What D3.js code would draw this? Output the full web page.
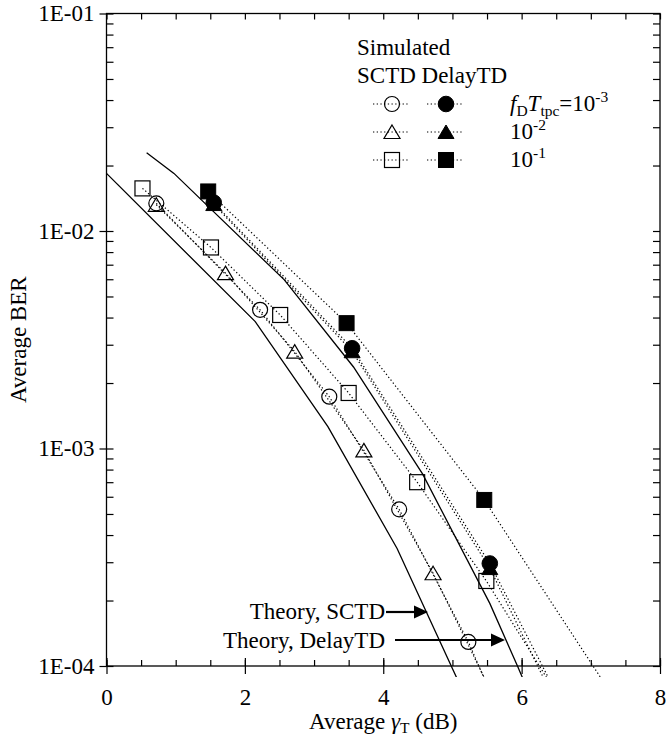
<!DOCTYPE html>
<html>
<head>
<meta charset="utf-8">
<script src="https://cdn.jsdelivr.net/npm/d3@7"></script>
<style>
  body { margin: 0; background: #fff; }
  svg { display: block; }
  text { font-family: "Liberation Serif", "Times New Roman", serif; fill: #000; }
</style>
</head>
<body>
<script>
// axis ticks
const xTicks = [0, 2, 4, 6, 8];
const yTicks = [1e-4, 1e-3, 1e-2, 1e-1];
const yTickLabels = ['1E-04', '1E-03', '1E-02', '1E-01'];

// theory curves [dB, BER]
const theorySCTD = [[0, 1.84e-2], [2.15, 3.83e-3], [3.2, 1.26e-3], [4.2, 3.47e-4], [5.1, 8.3e-5]];
const theoryDelayTD = [[0.58, 2.29e-2], [0.975, 1.84e-2], [2.57, 5.96e-3], [3.57, 2.37e-3], [4.57, 7.62e-4], [5.54, 1.94e-4], [5.94, 1.0e-4], [6.1, 7.6e-5]];

// simulated, SCTD
const sctdX3 = [0.72, 2.22, 3.22, 4.23, 5.23, 6.23];
const sctdBer3 = [1.34e-2, 4.34e-3, 1.73e-3, 5.25e-4, 1.29e-4, 2.4e-5];
const sctdX2 = [0.72, 1.72, 2.72, 3.72, 4.72, 5.72];
const sctdBer2 = [1.32e-2, 6.4e-3, 2.79e-3, 9.8e-4, 2.67e-4, 6.0e-5];
const sctdX1 = [0.52, 1.51, 2.51, 3.50, 4.49, 5.49, 6.49];
const sctdBer1 = [1.57e-2, 8.4e-3, 4.11e-3, 1.80e-3, 7.0e-4, 2.46e-4, 7.6e-5];

// simulated, DelayTD
const delayX3 = [1.55, 3.55, 5.54, 6.54];
const delayBer3 = [1.35e-2, 2.89e-3, 2.96e-4, 7.1e-5];
const delayX2 = [1.55, 3.55, 5.54, 6.54];
const delayBer2 = [1.33e-2, 2.80e-3, 2.82e-4, 6.3e-5];
const delayX1 = [1.47, 3.47, 5.46, 7.46];
const delayBer1 = [1.52e-2, 3.77e-3, 5.8e-4, 6.2e-5];

const series = [
  { shape: 'square', filled: false, x: sctdX1, ber: sctdBer1 },
  { shape: 'triangle', filled: false, x: sctdX2, ber: sctdBer2 },
  { shape: 'circle', filled: false, x: sctdX3, ber: sctdBer3 },
  { shape: 'square', filled: true, x: delayX1, ber: delayBer1 },
  { shape: 'triangle', filled: true, x: delayX2, ber: delayBer2 },
  { shape: 'circle', filled: true, x: delayX3, ber: delayBer3 },
].map(s => ({ ...s, points: s.x.map((x, i) => [x, s.ber[i]]) }));

const legendRows = [
  { shape: 'circle', exp: '-3', first: true },
  { shape: 'triangle', exp: '-2' },
  { shape: 'square', exp: '-1' },
];

const width = 666;
const height = 740;
const plotLeft = 106.5, plotRight = 660, plotTop = 13.5, plotBottom = 666;
const fontSize = 23;
const subSize = 15.5;

const x = d3.scaleLinear().domain([0, 8]).range([plotLeft, plotRight]);
const y = d3.scaleLog().domain([1e-4, 1e-1]).range([plotBottom, plotTop]);

const svg = d3.select('body')
  .append('svg')
  .attr('width', width)
  .attr('height', height)
  .style('font-size', fontSize + 'px');

svg.append('defs').append('clipPath')
  .attr('id', 'plot-clip')
  .append('rect')
    .attr('x', plotLeft)
    .attr('y', 0)
    .attr('width', plotRight - plotLeft)
    .attr('height', 677);

function marker(g, shape, filled) {
  const fill = filled ? '#000' : 'none';
  if (shape === 'circle') {
    g.append('circle').attr('r', filled ? 7.8 : 7.5);
  } else if (shape === 'square') {
    g.append('rect').attr('x', -7.5).attr('y', -7.5).attr('width', 15).attr('height', 15);
  } else {
    g.append('path').attr('d', 'M0,-7L8,6.5L-8,6.5Z');
  }
  g.selectAll('*')
    .attr('fill', fill)
    .attr('stroke', '#000')
    .attr('stroke-width', filled ? 1 : 1.2);
}

// frame and ticks
const halfSteps = d3.range(0, 8.01, 0.5);
const minorY = [];
[1e-4, 1e-3, 1e-2].forEach(d => d3.range(2, 10).forEach(k => minorY.push(d * k)));

svg.append('g')
  .attr('transform', `translate(0,${plotBottom})`)
  .call(d3.axisBottom(x).tickValues(xTicks).tickSize(8).tickPadding(15).tickFormat(d3.format('d')))
  .call(g => g.select('.domain').remove())
  .call(g => g.selectAll('text').attr('font-size', fontSize).attr('font-family', null));

svg.append('g')
  .attr('transform', `translate(0,${plotBottom})`)
  .call(d3.axisTop(x).tickValues(halfSteps).tickSize(6).tickFormat(''))
  .call(g => g.select('.domain').remove());

svg.append('g')
  .attr('transform', `translate(0,${plotBottom})`)
  .call(d3.axisTop(x).tickValues(xTicks).tickSize(8).tickFormat(''))
  .call(g => g.select('.domain').remove());

svg.append('g')
  .attr('transform', `translate(0,${plotTop})`)
  .call(d3.axisBottom(x).tickValues(halfSteps).tickSize(6).tickFormat(''))
  .call(g => g.select('.domain').remove());

svg.append('g')
  .attr('transform', `translate(${plotLeft},0)`)
  .call(d3.axisLeft(y).tickValues(yTicks).tickSize(7).tickPadding(5)
    .tickFormat((d, i) => yTickLabels[i]))
  .call(g => g.select('.domain').remove())
  .call(g => g.selectAll('text').attr('font-size', fontSize).attr('font-family', null));

svg.append('g')
  .attr('transform', `translate(${plotLeft},0)`)
  .call(d3.axisRight(y).tickValues(minorY.concat(yTicks)).tickSize(7).tickFormat(''))
  .call(g => g.select('.domain').remove());

svg.append('g')
  .attr('transform', `translate(${plotRight},0)`)
  .call(d3.axisLeft(y).tickValues(minorY.concat(yTicks)).tickSize(7).tickFormat(''))
  .call(g => g.select('.domain').remove());

svg.selectAll('.tick line').attr('stroke', '#000').attr('stroke-width', 1.2);

svg.append('rect')
  .attr('x', plotLeft)
  .attr('y', plotTop)
  .attr('width', plotRight - plotLeft)
  .attr('height', plotBottom - plotTop)
  .attr('fill', 'none')
  .attr('stroke', '#000')
  .attr('stroke-width', 1.3);

// curves
const line = d3.line().x(d => x(d[0])).y(d => y(d[1]));
const plot = svg.append('g').attr('clip-path', 'url(#plot-clip)');

plot.selectAll('.theory')
  .data([theorySCTD, theoryDelayTD])
  .join('path')
    .attr('class', 'theory')
    .attr('d', line)
    .attr('fill', 'none')
    .attr('stroke', '#000')
    .attr('stroke-width', 1.3);

plot.selectAll('.sim')
  .data(series)
  .join('path')
    .attr('class', 'sim')
    .attr('d', d => line(d.points))
    .attr('fill', 'none')
    .attr('stroke', '#000')
    .attr('stroke-width', 1.2)
    .attr('stroke-dasharray', '1.3,2.4');

series.forEach(s => {
  plot.append('g')
    .selectAll('g')
    .data(s.points.filter(p => p[1] >= 1e-4))
    .join('g')
      .attr('transform', d => `translate(${x(d[0])},${y(d[1])})`)
      .each(function() { marker(d3.select(this), s.shape, s.filled); });
});

// axis titles
svg.append('text')
  .attr('transform', `translate(26,${(plotTop + plotBottom) / 2}) rotate(-90)`)
  .attr('text-anchor', 'middle')
  .text('Average BER');

const xt = svg.append('text')
  .attr('x', (plotLeft + plotRight) / 2)
  .attr('y', 729)
  .attr('text-anchor', 'middle');
xt.append('tspan').text('Average ');
xt.append('tspan').attr('font-style', 'italic').text('γ');
xt.append('tspan').attr('font-size', subSize).attr('dy', 4).text('T');
xt.append('tspan').attr('dy', -4).text(' (dB)');

// legend
svg.append('text').attr('x', 357).attr('y', 55).text('Simulated');
svg.append('text').attr('x', 357).attr('y', 83).text('SCTD DelayTD');

const legend = svg.append('g')
  .selectAll('g')
  .data(legendRows)
  .join('g')
    .attr('transform', (d, i) => `translate(0,${104 + i * 28})`);

[[392, false], [446, true]].forEach(([cx, filled]) => {
  legend.append('line')
    .attr('x1', cx - 19).attr('x2', cx + 16)
    .attr('stroke', '#000')
    .attr('stroke-width', 1.2)
    .attr('stroke-dasharray', '1.3,2.4');
  legend.append('g')
    .attr('transform', `translate(${cx},0)`)
    .each(function(d) { marker(d3.select(this), d.shape, filled); });
});

const label = legend.append('text')
  .attr('x', 510)
  .attr('y', 7);
label.filter(d => d.first).each(function() {
  const t = d3.select(this);
  t.append('tspan').attr('font-style', 'italic').text('f');
  t.append('tspan').attr('font-size', subSize).attr('dy', 5).text('D');
  t.append('tspan').attr('font-style', 'italic').attr('dy', -5).text('T');
  t.append('tspan').attr('font-size', subSize).attr('dy', 5).text('tpc');
  t.append('tspan').attr('dy', -5).text('=');
});
label.append('tspan').text('10');
label.append('tspan').attr('font-size', subSize).attr('dy', -9).text(d => d.exp);

// annotations
const notes = [
  { text: 'Theory, SCTD', tx: 385, ty: 619, x1: 386, x2: 428, yArrow: 612 },
  { text: 'Theory, DelayTD', tx: 385, ty: 648, x1: 395, x2: 505, yArrow: 640 },
];
const note = svg.append('g').selectAll('g').data(notes).join('g');
note.append('text')
  .attr('x', d => d.tx)
  .attr('y', d => d.ty)
  .attr('text-anchor', 'end')
  .text(d => d.text);
note.append('line')
  .attr('x1', d => d.x1)
  .attr('x2', d => d.x2 - 12)
  .attr('y1', d => d.yArrow)
  .attr('y2', d => d.yArrow)
  .attr('stroke', '#000')
  .attr('stroke-width', 2.2);
note.append('path')
  .attr('d', d => `M${d.x2},${d.yArrow}L${d.x2 - 14},${d.yArrow - 6.5}L${d.x2 - 14},${d.yArrow + 6.5}Z`)
  .attr('fill', '#000');
</script>
</body>
</html>
